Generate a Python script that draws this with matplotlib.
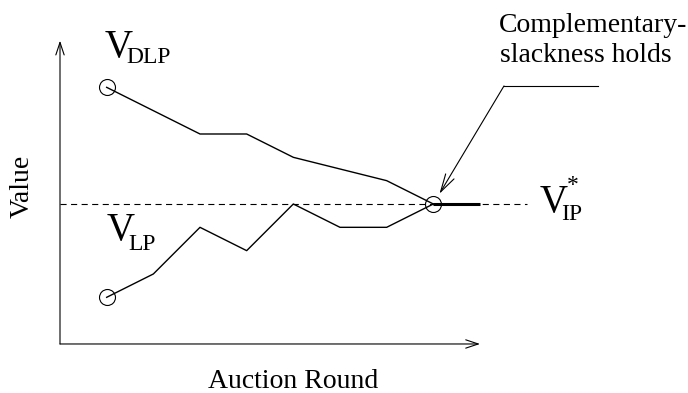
import matplotlib
matplotlib.use("Agg")
import matplotlib.pyplot as plt

# Auction rounds and the bound values tracked in each round
dlp_rounds = [0, 2, 3, 4, 6, 7]
dlp_values = [15, 13, 13, 12, 11, 10]
lp_rounds = [0, 1, 2, 3, 4, 5, 6, 7]
lp_values = [6, 7, 9, 8, 10, 9, 9, 10]
v_ip = 10
final_round = 7

plt.rcParams["font.family"] = ["Liberation Serif", "DejaVu Serif"]

fig = plt.figure(figsize=(6.88, 3.93), dpi=100)
ax = fig.add_axes([0, 0, 1, 1])
ax.set_xlim(-2.2857, 12.457)
ax.set_ylim(1.899, 18.743)
ax.axis("off")

x0, y0 = -1, 4  # origin of the drawn axes
arrow_kw = dict(arrowstyle="->,head_length=0.9,head_width=0.3",
                lw=0.8, color="black", shrinkA=0, shrinkB=0)
ax.annotate("", xy=(x0, 17), xytext=(x0, y0), arrowprops=arrow_kw)
ax.annotate("", xy=(8, y0), xytext=(x0, y0), arrowprops=arrow_kw)

# optimal IP value (dashed reference)
line, = ax.plot([x0, 9], [v_ip, v_ip], color="black", lw=0.8)
line.set_dashes((5.5, 4))
ax.plot([final_round, final_round + 1], [v_ip, v_ip], color="black", lw=2.2,
        solid_capstyle="butt")

# bound trajectories
ax.plot(dlp_rounds, dlp_values, color="black", lw=1.0)
ax.plot(lp_rounds, lp_values, color="black", lw=1.0)

circ = dict(marker="o", markersize=11.5, mfc="none", mec="black", mew=0.8,
            linestyle="none")
ax.plot([dlp_rounds[0]], [dlp_values[0]], **circ)
ax.plot([lp_rounds[0]], [lp_values[0]], **circ)
ax.plot([final_round], [v_ip], **circ)

# labels
big, sub, txt = 28, 17, 20
ax.text(-0.04, 16.30, "V", fontsize=big, ha="left", va="baseline")
ax.text(0.42, 16.04, "DLP", fontsize=sub, ha="left", va="baseline")
ax.text(0.0, 8.46, "V", fontsize=big, ha="left", va="baseline")
ax.text(0.46, 8.03, "LP", fontsize=sub, ha="left", va="baseline")
ax.text(9.27, 9.66, "V", fontsize=big, ha="left", va="baseline")
ax.text(9.73, 9.31, "IP", fontsize=sub, ha="left", va="baseline")
ax.text(9.86, 10.56, "*", fontsize=sub, ha="left", va="baseline")

ax.text(8.41, 17.37, "Complementary-", fontsize=txt, ha="left", va="baseline")
ax.text(8.43, 16.09, "slackness holds", fontsize=txt, ha="left", va="baseline")

# callout leader pointing at the converged point
ax.plot([10.53, 8.514], [15.06, 15.06], color="black", lw=0.8)
ax.annotate("", xy=(final_round, v_ip), xytext=(8.514, 15.06),
            arrowprops=dict(arrowstyle="->,head_length=1.3,head_width=0.35",
                            lw=0.8, color="black", shrinkA=0, shrinkB=8.6))

ax.text(-1.81, 10.77, "Value", fontsize=txt, rotation=90, ha="center", va="center")
ax.text(4.0, 2.12, "Auction Round", fontsize=txt, ha="center", va="baseline")

fig.savefig("out.png", dpi=100)
